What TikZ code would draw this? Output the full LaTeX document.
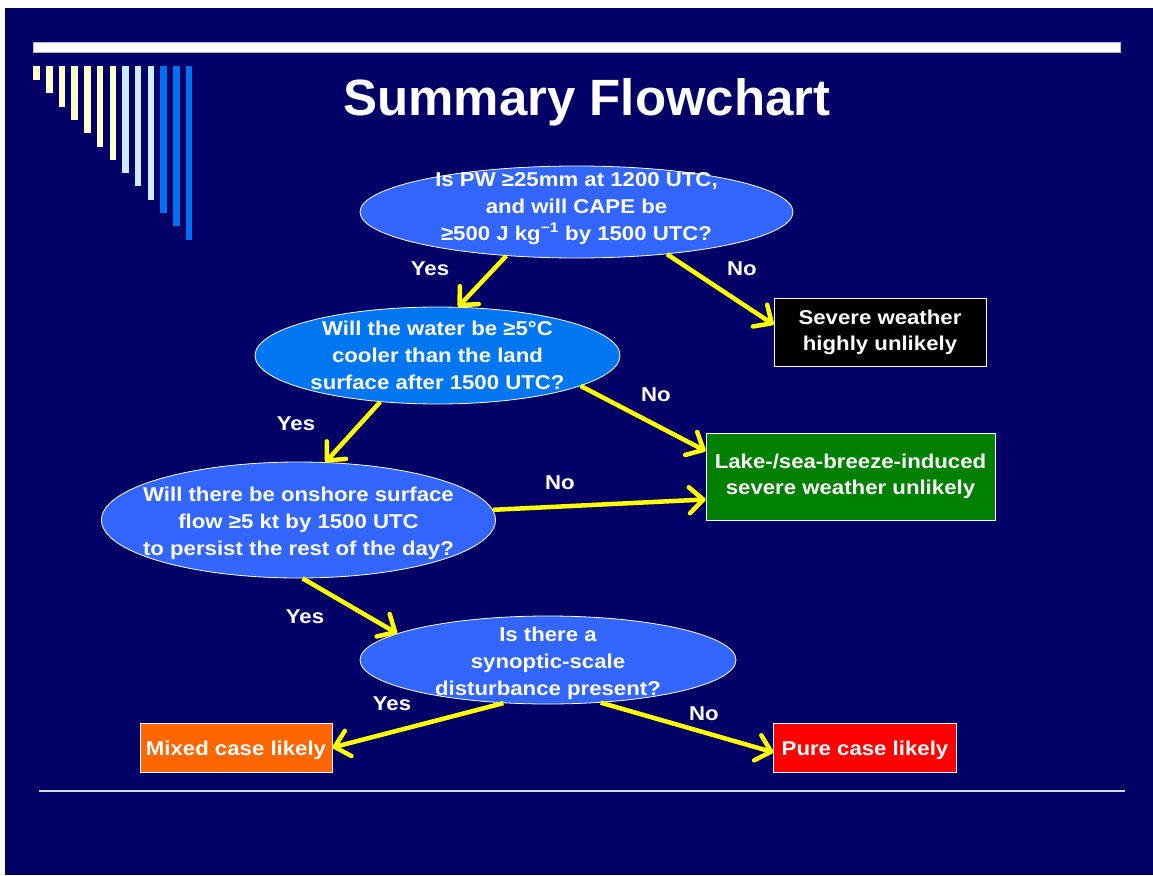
\documentclass[tikz,border=0pt]{standalone}
\usepackage{fontspec}
\setmainfont{Liberation Sans}
\newfontfamily\slidefont[FakeStretch=1.11]{Liberation Sans}
\usetikzlibrary{shapes.geometric,arrows.meta}

\definecolor{bgnavy}{RGB}{2,0,102}
\definecolor{qblue}{RGB}{51,102,255}
\definecolor{qsky}{RGB}{0,119,240}
\definecolor{barblue}{RGB}{0,112,240}
\definecolor{barpale}{RGB}{204,236,255}
\definecolor{barcream}{RGB}{255,255,204}
\definecolor{boxgreen}{RGB}{0,128,0}
\definecolor{boxorange}{RGB}{255,102,0}
\definecolor{arrowyellow}{RGB}{255,255,0}

\begin{document}
\begin{tikzpicture}[x=1pt,y=-1pt,
	question/.style = {ellipse, draw=white, line width=.8pt, text=white, align=center,
		inner xsep=-110pt, inner ysep=-40pt, font=\slidefont\bfseries\fontsize{20}{27}\selectfont},
	outcome/.style = {rectangle, draw=white, line width=.8pt, text=white, align=center,
		inner sep=0pt, execute at begin node={\rule{0pt}{21pt}},
		font=\slidefont\bfseries\fontsize{20}{26}\selectfont},
	branch/.style = {text=white, font=\slidefont\bfseries\fontsize{20}{24}\selectfont},
	flow/.style = {draw=arrowyellow, line width=4.5pt, -{Straight Barb[round,length=14pt,width=26pt]}}]
	% slide background
	\fill [white] (0,0) rectangle (1153,875);
	\fill [bgnavy] (5,8) rectangle (1153,875);
	\draw [fill=white, draw=white!70!bgnavy, line width=.6pt] (33,42) rectangle (1120,52);
	\draw [white!85!bgnavy, line width=1.5pt] (39,791) -- (1125,791);
	\foreach \i/\c in {0/barcream,1/barcream,2/barcream,3/barcream,4/barcream,5/barcream,6/barcream,
		7/barpale,8/barpale,9/barpale,10/barblue,11/barblue,12/barblue}
		\fill [\c] (33.3+12.7*\i,66) rectangle (39.8+12.7*\i,80+13.3*\i);
	\node [text=white, anchor=base, font=\bfseries\fontsize{51}{60}\selectfont] (title) at (587,115) {Summary Flowchart};

	% questions
	\node [question, fill=qblue, minimum width=433pt, minimum height=92pt] (pw) at (576.5,212)
		{Is PW ≥25mm at 1200 UTC,\\and will CAPE be\\≥500 J kg\textsuperscript{−1} by 1500 UTC?\rule[-11pt]{0pt}{0pt}};
	\node [question, fill=qsky, minimum width=365pt, minimum height=97pt] (water) at (437.5,355.5)
		{Will the water be ≥5°C\\cooler than the land\\surface after 1500 UTC?};
	\node [question, fill=qblue, minimum width=394pt, minimum height=116pt] (onshore) at (298.5,520)
		{\rule{0pt}{21pt}Will there be onshore surface\\flow ≥5 kt by 1500 UTC\\to persist the rest of the day?};
	\node [question, fill=qblue, minimum width=376pt, minimum height=88pt] (synoptic) at (548,660)
		{\rule{0pt}{21pt}Is there a\\synoptic-scale\\disturbance present?};

	% outcomes
	\node [outcome, fill=black, minimum width=212pt, minimum height=68pt] (severe) at (880,332)
		{Severe weather\\highly unlikely};
	\node [outcome, fill=boxgreen, minimum width=289pt, minimum height=87pt] (breeze) at (850.5,476.5)
		{Lake-/sea-breeze-induced\\severe weather unlikely};
	\node [outcome, fill=boxorange, minimum width=192pt, minimum height=49pt] (mixed) at (236,747.5)
		{Mixed case likely};
	\node [outcome, fill=red, minimum width=182.5pt, minimum height=49pt] (pure) at (865,747.5)
		{Pure case likely};

	% connectors
	\draw [flow] (pw.212) -- (water.67);
	\draw [flow] (pw.335) -- (severe.176);
	\draw [flow] (water.219) -- (onshore.65);
	\draw [flow] (water.348) -- (breeze.170);
	\draw [flow] (onshore.3) -- (breeze.189);
	\draw [flow] (onshore.274) -- (synoptic.170);
	\draw [flow] (synoptic.224) -- (mixed.east);
	\draw [flow] (synoptic.321) -- (pure.183);

	\node [branch] (yes1) at (430,269) {Yes};
	\node [branch] (no1) at (742,269) {No};
	\node [branch] (yes2) at (296,424) {Yes};
	\node [branch] (no2) at (656,395) {No};
	\node [branch] (no3) at (560,483) {No};
	\node [branch] (yes3) at (305,617) {Yes};
	\node [branch] (yes4) at (392,704) {Yes};
	\node [branch] (no4) at (704,714) {No};
\end{tikzpicture}
\end{document}
